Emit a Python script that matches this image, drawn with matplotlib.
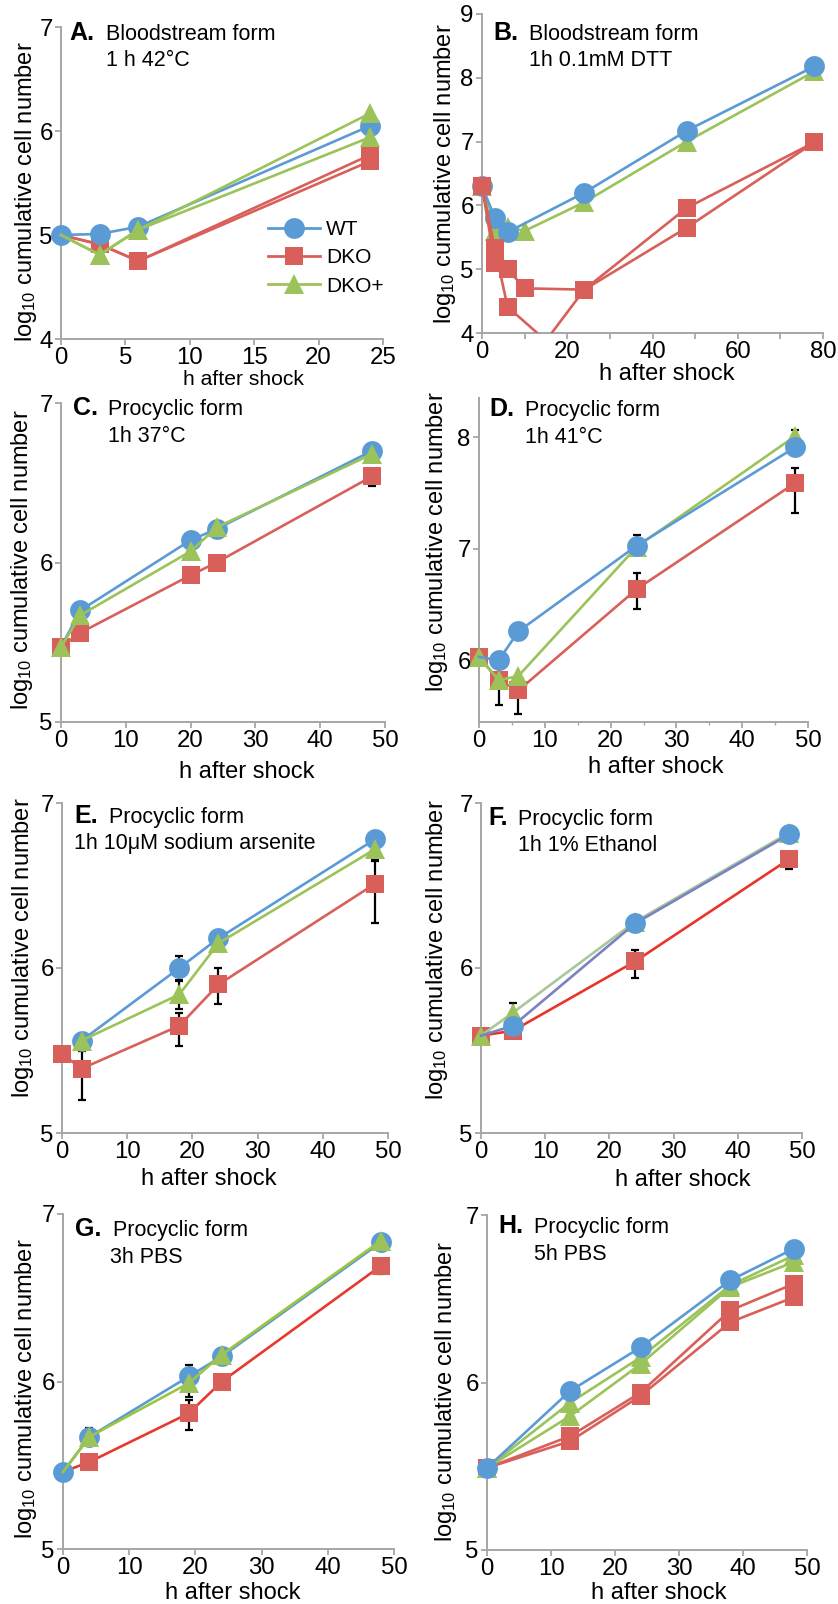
import matplotlib

matplotlib.use("Agg")
import matplotlib.pyplot as plt
from matplotlib.lines import Line2D
from matplotlib.transforms import Bbox, TransformedBbox

plt.rcParams["font.family"] = ["Liberation Sans", "DejaVu Sans"]
plt.rcParams["mathtext.fontset"] = "custom"
plt.rcParams["mathtext.rm"] = "Liberation Sans"

W, H = 838, 1604

blue = "#5b9bd5"
red = "#d9605a"
green = "#9bc35a"

# A. bloodstream form, 1 h 42C
A_x = [0, 3, 6, 24]
A_wt = [5.0, 5.01, 5.08, 6.05]
A_dko1 = [5.0, 4.91, 4.75, 5.77]
A_dko2 = [5.0, 4.91, 4.75, 5.71]
A_dkop1 = [5.0, 4.81, 5.05, 6.17]
A_dkop2 = [5.0, 4.81, 5.05, 5.94]

# B. bloodstream form, DTT
B_wt_x = [0, 3, 6, 24, 48, 78]
B_wt = [6.3, 5.81, 5.58, 6.2, 7.17, 8.18]
B_dkop_x = [0, 3, 6, 10, 24, 48, 78]
B_dkop = [6.3, 5.6, 5.66, 5.6, 6.05, 7.0, 8.1]
B_dko1_x = [0, 3, 6, 15, 24, 48, 78]
B_dko1 = [6.3, 5.33, 4.41, 3.88, 4.68, 5.96, 6.99]
B_dko2_x = [0, 3, 6, 10, 24, 48, 78]
B_dko2 = [6.3, 5.1, 5.0, 4.7, 4.68, 5.65, 6.99]

# C. procyclic, 37C
C_x = [0, 3, 20, 24, 48]
C_wt = [5.47, 5.70, 6.14, 6.21, 6.70]
C_dko = [5.47, 5.56, 5.92, 6.00, 6.54]
C_dkop = [5.47, 5.67, 6.07, 6.22, 6.68]

# D. procyclic, 41C
D_x = [0, 3, 6, 24, 48]
D_wt = [6.03, 6.0, 6.26, 7.03, 7.91]
D_dko = [6.03, 5.82, 5.73, 6.64, 7.59]
D_dkop = [6.03, 5.82, 5.86, 7.02, 8.01]

# E. procyclic, arsenite
E_x = [3, 18, 24, 48]
E_wt = [5.56, 6.0, 6.18, 6.78]
E_dkop = [5.56, 5.84, 6.15, 6.72]
E_dko_x = [0, 3, 18, 24, 48]
E_dko = [5.48, 5.39, 5.65, 5.90, 6.51]

# F. procyclic, ethanol
F_x = [0, 5, 24, 48]
F_wt = [5.59, 5.65, 6.27, 6.81]
F_dko = [5.59, 5.62, 6.04, 6.66]
F_dkop = [5.59, 5.73, 6.28, 6.82]

# G. procyclic, 3h PBS
G_x = [0, 4, 19, 24, 48]
G_wt = [5.46, 5.67, 6.03, 6.15, 6.83]
G_dko = [5.46, 5.52, 5.81, 6.0, 6.69]
G_dkop = [5.46, 5.67, 5.99, 6.16, 6.84]

# H. procyclic, 5h PBS
H_x = [0, 13, 24, 38, 48]
H_wt = [5.49, 5.95, 6.21, 6.61, 6.80]
H_dko1 = [5.49, 5.68, 5.94, 6.43, 6.59]
H_dko2 = [5.49, 5.65, 5.92, 6.36, 6.51]
H_dkop1 = [5.49, 5.88, 6.15, 6.58, 6.76]
H_dkop2 = [5.49, 5.80, 6.11, 6.57, 6.72]

# error bars: x, y, down, up
C_err = ([48], [6.54], [0.06], [0.0])
D_err = ([3, 6, 24, 48, 48, 24], [5.82, 5.73, 6.64, 7.59, 8.01, 7.02],
         [0.22, 0.21, 0.18, 0.27, 0.0, 0.0], [0.12, 0.1, 0.14, 0.14, 0.06, 0.1])
E_err = ([3, 18, 18, 18, 24, 24, 48, 48], [5.39, 5.65, 5.84, 6.0, 5.90, 6.15, 6.51, 6.72],
         [0.19, 0.12, 0.09, 0.07, 0.12, 0.0, 0.24, 0.06], [0.11, 0.08, 0.08, 0.07, 0.1, 0.0, 0.14, 0.03])
F_err = ([24, 48, 5], [6.04, 6.66, 5.73], [0.1, 0.06, 0.0], [0.07, 0.0, 0.06])
G_err = ([19, 19, 19, 4, 48], [5.81, 6.03, 5.99, 5.67, 6.69],
         [0.1, 0.0, 0.08, 0.0, 0.05], [0.08, 0.07, 0.0, 0.05, 0.0])

fig = plt.figure(figsize=(W / 100, H / 100), dpi=100)


def px_axes(l, r, t, b):
    return fig.add_axes([l / W, 1 - b / H, (r - l) / W, (b - t) / H])


def series(ax, x, y, color, marker, ms, lc=None, skip=(), z=3):
    idx = [i for i in range(len(x)) if i not in skip]
    line, = ax.plot(x, y, color=lc or color, lw=1.9, marker=marker, ms=ms,
                    mfc=color, mec=color, mew=0, markevery=idx, zorder=z)
    # let markers on the y axis overhang it, but still cut lines below the x axis
    line.set_clip_path(None)
    line.set_clip_box(TransformedBbox(Bbox([[-0.1, 0], [1.1, 1.1]]), ax.transAxes))
    return line


def wt(ax, x, y, **kw):
    return series(ax, x, y, blue, "o", 15, **kw)


def dko(ax, x, y, **kw):
    return series(ax, x, y, red, "s", 13, **kw)


def dkop(ax, x, y, **kw):
    return series(ax, x, y, green, "^", 15, **kw)


def errs(ax, err):
    ax.errorbar(err[0], err[1], yerr=[err[2], err[3]], fmt="none", ecolor="black",
                elinewidth=1.6, capsize=2.8, capthick=1.6, zorder=1.5)


def style(ax, xlim, ylim, xticks, yticks, xlab, ylab, xl_size=17):
    ax.set_xlim(*xlim)
    ax.set_ylim(*ylim)
    ax.set_xticks(xticks)
    ax.set_yticks(yticks)
    for s in ["top", "right"]:
        ax.spines[s].set_visible(False)
    for s in ["left", "bottom"]:
        ax.spines[s].set_color("#a6a6a6")
        ax.spines[s].set_linewidth(1.4)
    ax.tick_params(direction="out", length=4, width=1.3, color="#a6a6a6",
                   labelsize=17.3, pad=2)
    ax.set_xlabel("h after shock", fontsize=xl_size)
    ax.xaxis.label.set_va("baseline")
    ax.xaxis.set_label_coords(xlab[0] / W, 1 - xlab[1] / H, transform=fig.transFigure)
    ax.set_ylabel("log$\\mathregular{_{10}}$ cumulative cell number", fontsize=17)
    ax.yaxis.label.set_va("center")
    ax.yaxis.set_label_coords(ylab[0] / W, 1 - ylab[1] / H, transform=fig.transFigure)


def title(letter, l1, l2, pl, p1, p2):
    fig.text(pl[0] / W, 1 - pl[1] / H, letter, fontsize=18, fontweight="bold", va="baseline")
    fig.text(p1[0] / W, 1 - p1[1] / H, l1, fontsize=15.5, va="baseline")
    fig.text(p2[0] / W, 1 - p2[1] / H, l2, fontsize=15.5, va="baseline")


# A
ax = px_axes(61, 383, 27, 339)
dko(ax, A_x, A_dko1, skip=(0,))
dko(ax, A_x, A_dko2, skip=(0,))
wt(ax, A_x, A_wt)
dkop(ax, A_x, A_dkop1, skip=(0,))
dkop(ax, A_x, A_dkop2, skip=(0,))
style(ax, (0, 25), (4, 7), [0, 5, 10, 15, 20, 25], [4, 5, 6, 7], (243, 385), (26, 192), xl_size=15.2)
title("A.", "Bloodstream form", "1 h 42°C", (69, 40), (106, 40), (106, 66))
handles = [Line2D([], [], color=blue, marker="o", ms=15, lw=2, mew=0),
           Line2D([], [], color=red, marker="s", ms=13, lw=2, mew=0),
           Line2D([], [], color=green, marker="^", ms=15, lw=2, mew=0)]
ax.legend(handles, ["WT", "DKO", "DKO+"], loc="upper left", frameon=False,
          bbox_to_anchor=(268 / W, 1 - 220 / H), bbox_transform=fig.transFigure,
          borderpad=0, borderaxespad=0, handlelength=2.5, handletextpad=0.3,
          labelspacing=0.45, fontsize=15)

# B
ax = px_axes(482, 823, 14, 333)
dkop(ax, B_dkop_x, B_dkop)
wt(ax, B_wt_x, B_wt)
dko(ax, B_dko1_x, B_dko1, skip=(3,))
dko(ax, B_dko2_x, B_dko2)
style(ax, (0, 80), (4, 9), [0, 20, 40, 60, 80], [4, 5, 6, 7, 8, 9], (667, 380), (445, 174))
ax.set_xticks([10, 30, 50, 70], minor=True)
ax.tick_params(which="minor", direction="out", length=4, width=1.3, color="#a6a6a6")
title("B.", "Bloodstream form", "1h 0.1mM DTT", (493, 40), (529, 40), (529, 66))

# C
ax = px_axes(61, 385, 403, 722)
errs(ax, C_err)
dko(ax, C_x, C_dko)
wt(ax, C_x, C_wt, skip=(0,))
dkop(ax, C_x, C_dkop)
style(ax, (0, 50), (5, 7), [0, 10, 20, 30, 40, 50], [5, 6, 7], (247, 778), (22, 560))
title("C.", "Procyclic form", "1h 37°C", (73, 415), (108, 415), (108, 442))

# D
ax = px_axes(479, 808, 398, 722)
errs(ax, D_err)
dko(ax, D_x, D_dko)
dkop(ax, D_x, D_dkop)
wt(ax, D_x, D_wt, skip=(0,))
style(ax, (0, 50), (5.446, 8.354), [0, 10, 20, 30, 40, 50], [6, 7, 8], (656, 773), (437, 542))
ax.set_xticks([5, 15, 25, 35, 45], minor=True)
ax.tick_params(which="minor", direction="out", length=2, width=1.0, color="#a6a6a6")
title("D.", "Procyclic form", "1h 41°C", (489, 416), (525, 416), (525, 443))

# E
ax = px_axes(62, 388, 803, 1133)
errs(ax, E_err)
dko(ax, E_dko_x, E_dko)
wt(ax, E_x, E_wt)
dkop(ax, E_x, E_dkop)
style(ax, (0, 50), (5, 7), [0, 10, 20, 30, 40, 50], [5, 6, 7], (209, 1185), (23, 948))
title("E.", "Procyclic form", "1h 10μM sodium arsenite", (74, 823), (109, 823), (74, 849))

# F
ax = px_axes(481, 802, 803, 1133)
errs(ax, F_err)
dko(ax, F_x, F_dko, lc="#e8342a")
dkop(ax, F_x, F_dkop, lc="#a8c89a")
wt(ax, F_x, F_wt, lc="#7b82c2", skip=(0,))
style(ax, (0, 50), (5, 7), [0, 10, 20, 30, 40, 50], [5, 6, 7], (683, 1186), (437, 950))
title("F.", "Procyclic form", "1h 1% Ethanol", (488, 825), (518, 825), (518, 851))

# G
ax = px_axes(63, 394, 1214, 1549)
errs(ax, G_err)
dko(ax, G_x, G_dko, lc="#e8392f", skip=(0,))
wt(ax, G_x, G_wt)
dkop(ax, G_x, G_dkop, lc="#9cc63c", skip=(0,))
style(ax, (0, 50), (5, 7), [0, 10, 20, 30, 40, 50], [5, 6, 7], (233, 1599), (26, 1389))
title("G.", "Procyclic form", "3h PBS", (75, 1236), (113, 1236), (110, 1263))

# H
ax = px_axes(487, 807, 1215, 1550)
dko(ax, H_x, H_dko1)
dko(ax, H_x, H_dko2)
dkop(ax, H_x, H_dkop1)
dkop(ax, H_x, H_dkop2)
wt(ax, H_x, H_wt)
style(ax, (0, 50), (5, 7), [0, 10, 20, 30, 40, 50], [5, 6, 7], (659, 1599), (446, 1392))
title("H.", "Procyclic form", "5h PBS", (498, 1233), (534, 1233), (534, 1260))

fig.savefig("out.png", dpi=100)
